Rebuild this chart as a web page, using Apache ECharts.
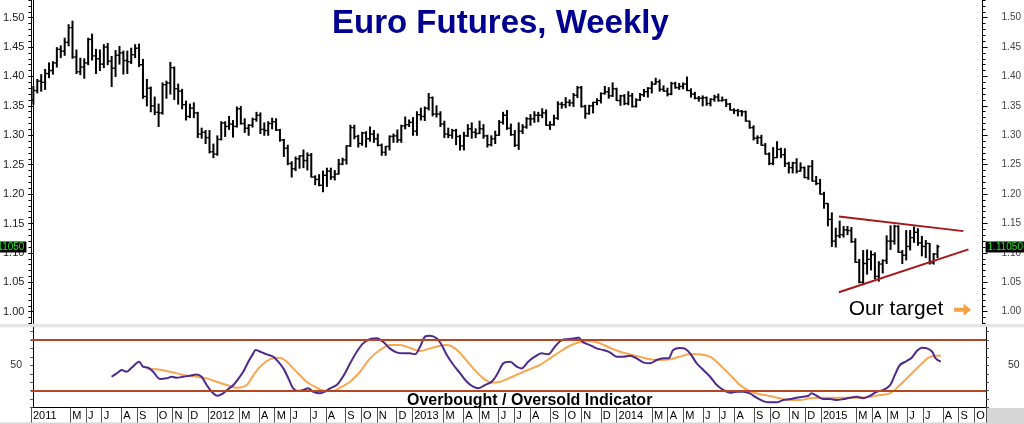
<!DOCTYPE html>
<html><head><meta charset="utf-8">
<script src="https://cdn.jsdelivr.net/npm/echarts@6/dist/echarts.min.js"></script>
<style>html,body{margin:0;padding:0;background:#fff}#c{width:1024px;height:424px}</style>
</head><body><div id="c"></div>
<script>
// ---------- data ----------
const firstWeek = '2011-02-25';      // first weekly bar (week ending, Friday)
const weekCount = 243;               // weekly slots on the time axis
const monthLetters = ['J','F','M','A','M','J','J','A','S','O','N','D'];
const lastPrice = 1.1105;

const opens = [
1.360,1.376,1.392,1.390,1.405,1.410,1.423,1.446,1.443,1.458,
1.483,1.433,1.408,1.416,1.423,1.463,1.435,1.430,1.421,1.450,
1.426,1.414,1.436,1.440,1.427,1.425,1.437,1.448,1.420,1.366,
1.380,1.350,1.339,1.338,1.386,1.389,1.415,1.379,1.375,1.352,
1.332,1.346,1.338,1.302,1.305,1.296,1.272,1.268,1.293,1.321,
1.315,1.319,1.315,1.345,1.320,1.312,1.317,1.327,1.334,1.310,
1.308,1.320,1.323,1.309,1.292,1.278,1.252,1.243,1.260,1.265,
1.257,1.266,1.229,1.225,1.215,1.232,1.239,1.229,1.234,1.251,
1.258,1.282,1.313,1.298,1.286,1.304,1.294,1.302,1.294,1.283,
1.271,1.281,1.298,1.299,1.292,1.316,1.318,1.322,1.307,1.335,
1.332,1.346,1.364,1.336,1.336,1.319,1.302,1.300,1.308,1.298,
1.282,1.299,1.311,1.305,1.303,1.311,1.299,1.284,1.294,1.300,
1.322,1.334,1.312,1.301,1.283,1.307,1.314,1.328,1.328,1.334,
1.334,1.338,1.317,1.318,1.329,1.353,1.352,1.356,1.355,1.368,
1.381,1.349,1.337,1.350,1.356,1.359,1.371,1.374,1.367,1.379,
1.359,1.367,1.354,1.367,1.349,1.360,1.369,1.374,1.380,1.387,
1.391,1.378,1.375,1.370,1.388,1.381,1.383,1.387,1.376,1.370,
1.363,1.363,1.364,1.354,1.361,1.365,1.359,1.360,1.353,1.343,
1.342,1.341,1.340,1.324,1.313,1.295,1.296,1.283,1.268,1.252,
1.262,1.276,1.267,1.252,1.245,1.253,1.239,1.245,1.228,1.247,
1.222,1.218,1.200,1.184,1.157,1.120,1.129,1.131,1.139,1.138,
1.119,1.084,1.050,1.082,1.089,1.097,1.060,1.081,1.087,1.120,
1.120,1.145,1.101,1.096,1.111,1.126,1.135,1.117,1.111,1.116,
1.083,1.098];
const highs = [
1.383,1.395,1.403,1.412,1.423,1.425,1.449,1.452,1.465,1.488,
1.494,1.445,1.431,1.430,1.465,1.472,1.446,1.445,1.454,1.456,
1.434,1.444,1.451,1.443,1.443,1.448,1.454,1.455,1.429,1.395,
1.382,1.365,1.353,1.389,1.392,1.424,1.416,1.387,1.378,1.358,
1.353,1.355,1.339,1.312,1.308,1.308,1.285,1.299,1.323,1.323,
1.332,1.325,1.348,1.349,1.328,1.318,1.329,1.339,1.338,1.321,
1.323,1.329,1.328,1.310,1.293,1.283,1.255,1.263,1.265,1.275,
1.270,1.269,1.231,1.233,1.239,1.244,1.244,1.240,1.259,1.261,
1.282,1.317,1.317,1.300,1.305,1.306,1.314,1.308,1.302,1.285,
1.281,1.299,1.302,1.309,1.317,1.331,1.326,1.330,1.340,1.346,
1.348,1.371,1.365,1.350,1.340,1.324,1.312,1.310,1.310,1.300,
1.305,1.318,1.321,1.311,1.324,1.318,1.300,1.299,1.307,1.325,
1.339,1.342,1.319,1.308,1.321,1.318,1.330,1.335,1.340,1.339,
1.345,1.343,1.323,1.334,1.357,1.356,1.364,1.360,1.371,1.383,
1.383,1.351,1.351,1.356,1.362,1.372,1.383,1.381,1.389,1.380,
1.368,1.369,1.374,1.371,1.362,1.371,1.378,1.381,1.391,1.397,
1.394,1.384,1.380,1.390,1.390,1.388,1.389,1.399,1.379,1.373,
1.366,1.367,1.365,1.362,1.368,1.370,1.365,1.361,1.354,1.345,
1.344,1.342,1.341,1.324,1.316,1.299,1.300,1.286,1.270,1.279,
1.289,1.278,1.277,1.254,1.254,1.260,1.253,1.246,1.248,1.257,
1.230,1.225,1.203,1.184,1.168,1.142,1.154,1.145,1.145,1.143,
1.124,1.089,1.104,1.105,1.103,1.100,1.085,1.088,1.129,1.146,
1.147,1.146,1.104,1.138,1.138,1.144,1.141,1.128,1.121,1.116,
1.099,1.113];
const lows = [
1.353,1.372,1.375,1.378,1.398,1.404,1.416,1.432,1.436,1.452,
1.431,1.405,1.403,1.397,1.420,1.428,1.405,1.410,1.415,1.420,
1.383,1.400,1.421,1.404,1.405,1.422,1.432,1.417,1.363,1.350,
1.340,1.335,1.315,1.336,1.363,1.370,1.361,1.353,1.345,1.326,
1.330,1.330,1.296,1.295,1.286,1.270,1.262,1.266,1.292,1.298,
1.310,1.297,1.314,1.319,1.305,1.300,1.314,1.324,1.303,1.300,
1.300,1.311,1.308,1.290,1.264,1.250,1.229,1.240,1.244,1.245,
1.241,1.229,1.216,1.214,1.204,1.213,1.225,1.224,1.234,1.250,
1.251,1.281,1.294,1.280,1.283,1.280,1.290,1.288,1.282,1.266,
1.266,1.275,1.288,1.288,1.288,1.311,1.315,1.300,1.300,1.326,
1.325,1.343,1.333,1.331,1.315,1.296,1.296,1.295,1.284,1.275,
1.275,1.298,1.295,1.296,1.303,1.295,1.280,1.282,1.286,1.300,
1.319,1.310,1.300,1.281,1.276,1.303,1.312,1.317,1.322,1.323,
1.330,1.317,1.310,1.317,1.327,1.346,1.347,1.350,1.349,1.364,
1.348,1.329,1.336,1.338,1.352,1.355,1.370,1.363,1.366,1.359,
1.351,1.352,1.352,1.348,1.348,1.359,1.366,1.365,1.372,1.387,
1.375,1.375,1.367,1.369,1.380,1.378,1.379,1.376,1.365,1.362,
1.358,1.350,1.351,1.350,1.358,1.358,1.358,1.349,1.343,1.337,
1.333,1.333,1.324,1.312,1.292,1.286,1.283,1.268,1.250,1.250,
1.262,1.262,1.247,1.236,1.236,1.236,1.239,1.228,1.225,1.222,
1.216,1.200,1.176,1.146,1.111,1.110,1.126,1.127,1.131,1.118,
1.084,1.049,1.046,1.064,1.071,1.056,1.052,1.066,1.082,1.106,
1.115,1.101,1.082,1.088,1.105,1.118,1.113,1.095,1.092,1.081,
1.081,1.092];
const closes = [
1.376,1.392,1.390,1.405,1.410,1.423,1.446,1.443,1.458,1.483,
1.433,1.408,1.416,1.423,1.463,1.435,1.430,1.421,1.450,1.426,
1.414,1.436,1.440,1.427,1.425,1.437,1.448,1.420,1.366,1.380,
1.350,1.339,1.338,1.386,1.389,1.415,1.379,1.375,1.352,1.332,
1.346,1.338,1.302,1.305,1.296,1.272,1.268,1.293,1.321,1.315,
1.319,1.315,1.345,1.320,1.312,1.317,1.327,1.334,1.310,1.308,
1.320,1.323,1.309,1.292,1.278,1.252,1.243,1.260,1.265,1.257,
1.266,1.229,1.225,1.215,1.232,1.239,1.229,1.234,1.251,1.258,
1.282,1.313,1.298,1.286,1.304,1.294,1.302,1.294,1.283,1.271,
1.281,1.298,1.299,1.292,1.316,1.318,1.322,1.307,1.335,1.332,
1.346,1.364,1.336,1.336,1.319,1.302,1.300,1.308,1.298,1.282,
1.299,1.311,1.305,1.303,1.311,1.299,1.284,1.294,1.300,1.322,
1.334,1.312,1.301,1.283,1.307,1.314,1.328,1.328,1.334,1.334,
1.338,1.317,1.318,1.329,1.353,1.352,1.356,1.355,1.368,1.381,
1.349,1.337,1.350,1.356,1.359,1.371,1.374,1.367,1.379,1.359,
1.367,1.354,1.367,1.349,1.360,1.369,1.374,1.380,1.387,1.391,
1.378,1.375,1.370,1.388,1.381,1.383,1.387,1.376,1.370,1.363,
1.363,1.364,1.354,1.361,1.365,1.359,1.360,1.353,1.343,1.342,
1.341,1.340,1.324,1.313,1.295,1.296,1.283,1.268,1.252,1.262,
1.276,1.267,1.252,1.245,1.253,1.239,1.245,1.228,1.247,1.222,
1.218,1.200,1.184,1.157,1.120,1.129,1.131,1.139,1.138,1.119,
1.084,1.050,1.082,1.089,1.097,1.060,1.081,1.087,1.120,1.120,
1.145,1.101,1.096,1.111,1.126,1.135,1.117,1.111,1.116,1.083,
1.098,1.1105];

// triangle trendlines: [week index, price]
const upperTrend = [[205.8, 1.162], [237.6, 1.137]];
const lowerTrend = [[205.8, 1.033], [238.9, 1.106]];

// oscillator: [week index, value]
const fastOsc = [
[20,36.5],[21.3,40.5],[22.6,44.4],[23.8,42.4],[25.1,47.2],[27,54.3],[28,48.4],[29.3,47.2],[30.6,42.4],[32.3,33.8],
[34,34.6],[35.3,36.5],[36.6,35.3],[38.2,36.5],[39.9,37.7],[41.6,39.3],[42.9,36.5],[44.2,26.7],[45.5,18.8],[46.9,14],
[48.4,16.9],[49.7,22],[51,26.7],[52.2,33.8],[53.5,42.4],[54.8,54.3],[55.9,63],[56.7,68.1],[58.2,65.4],[59.5,63],
[61.1,60.2],[62.4,54.3],[63.7,46.4],[65,34.6],[66.2,22.8],[67.5,19.6],[68.8,20.8],[70,22.8],[71.3,18.8],[73,16.9],
[74.3,18.8],[75.6,22.8],[77.3,26.7],[78.6,34.6],[79.6,42.4],[80.7,52.4],[82.4,66.1],[84,76],[85.8,81.1],[87.5,82],
[89.1,77.9],[90.8,70.1],[92.5,65.4],[94.2,64.2],[95.9,64.2],[97.2,63],[98.5,72],[99.7,83.8],[101,85],[102.7,82],
[104,74],[105.3,62.2],[107,50.4],[108.7,40.5],[110.4,30.6],[112,24.7],[113.3,22.8],[115,26.7],[116.7,30.6],[118,38.5],
[119.7,52.4],[121.4,54.3],[123.1,48.4],[124.3,46.4],[126,54.3],[127.7,60.2],[129.4,64.2],[131.1,63],[132.8,72],[134.5,79.9],
[136.2,81.1],[137.9,82],[138.8,82.8],[140,77.2],[141.7,74],[143.4,70.1],[145.1,68.1],[146.8,65.4],[148.5,60.2],[150.2,60.2],
[151.9,61.4],[153.6,58.3],[155.3,53.5],[157,52.4],[158.7,56.3],[160.4,58.3],[161.7,58.3],[162.9,68.1],[164.6,70.5],[165.9,69.7],
[167.2,64.2],[168.9,52.4],[170.6,44.4],[172.3,36.5],[174,26.7],[175.7,20.8],[177.4,17.6],[179.1,18.8],[180.7,18.8],[182.4,16.9],
[184.1,11.7],[185.8,7.7],[187.5,6.2],[189.2,6.2],[190.9,8.9],[192.6,10.1],[194.3,11.7],[196,12.8],[197.3,14],[198.1,16.9],
[199.4,14],[201.1,10.1],[202.8,10.1],[204.5,8.9],[206.2,10.1],[207.9,11.7],[209.6,12.8],[211.3,11.1],[213,14],[214.7,18.8],
[216.4,20.8],[218.1,26.7],[219.3,38.5],[220.6,50.4],[222.3,55.1],[223.6,59],[224.9,66.9],[226.2,70.8],[227.5,70.1],[228.8,66.1],
[229.7,58.3],[231,54.3]];
const slowOsc = [
[28.9,46.4],[31.5,45.3],[34,43.3],[36.6,40.5],[39.1,37.7],[41.6,36.5],[44.2,34.6],[46.7,30.6],[49.3,26.7],[51.8,23.5],
[54.4,26.7],[56.1,38.5],[57.8,48.4],[59.5,55.1],[61.1,58.3],[62.8,59],[64.6,54.3],[66.2,46.4],[67.9,38.5],[69.6,30.6],
[71.8,24.7],[74,20],[76.4,19.6],[78.1,23.5],[80.7,30.6],[83.2,42.4],[85.8,58.3],[88.3,68.1],[90.8,74],[93.4,74],
[95.9,70.8],[98.5,66.9],[101,70.1],[103.6,73.2],[105.3,74],[107.4,70.1],[109.5,60.2],[112,46.4],[114.6,34.6],[116.7,29.4],
[118.8,30.6],[121.4,35.3],[123.9,40.5],[126.5,45.6],[129,50.4],[131.6,58.3],[134.1,66.1],[136.6,73.2],[139.2,77.2],[141.7,78.8],
[144.3,76],[146.8,70.8],[149.4,66.1],[151.9,63],[154.4,60.2],[157,57.1],[159.5,56.3],[162.1,57.1],[164.6,60.2],[167.2,63.5],
[169.7,63],[172.3,60.2],[174.8,50.4],[177.4,38.5],[179.9,26.7],[182.4,19.6],[185,15.7],[187.5,13.7],[190.1,11],[192.6,8.9],
[195.2,8.9],[197.7,11],[200.3,11.7],[202.8,11.7],[205.3,11.7],[207.9,11.7],[210.4,11.7],[213,12.8],[215.5,14.8],[218.1,16.9],
[220.6,26.7],[223.2,38.5],[225.8,50.4],[227.9,59],[229.7,61.4],[231,61.4]];

const priceTicks = [1.00,1.05,1.10,1.15,1.20,1.25,1.30,1.35,1.40,1.45,1.50];
const oscTicks = [0,10,20,30,40,50,60,70,80,90];
const oscLabels = [50];
const oscBands = [80, 20];

// ---------- derived ----------
const FONT = 'Liberation Sans, Arial, Helvetica, sans-serif';
const priceMinor = [];
for (let k = 98; k <= 153; k++) priceMinor.push(k / 100);

const t0 = Date.parse(firstWeek + 'T00:00:00Z');
const weekKeys = [], labelAt = [];
for (let i = 0; i < weekCount; i++) {
  const d = new Date(t0 + i * 7 * 86400000);
  weekKeys.push(d.toISOString().slice(0, 10));
  const prev = i > 0 ? new Date(t0 + (i - 1) * 7 * 86400000) : null;
  const m = d.getUTCMonth();
  let lab = '';
  if (i === 0) lab = String(d.getUTCFullYear());
  else if (i >= 9 && m !== 1 && m !== prev.getUTCMonth())
    lab = m === 0 ? String(d.getUTCFullYear()) : monthLetters[m];
  labelAt.push(lab);
}
const ohlc = opens.map((o, i) => [i, o, highs[i], lows[i], closes[i]]);

function renderBar(params, api) {
  const x = api.value(0);
  const pO = api.coord([x, api.value(1)]);
  const pH = api.coord([x, api.value(2)]);
  const pL = api.coord([x, api.value(3)]);
  const pC = api.coord([x, api.value(4)]);
  const w = api.size([1, 0])[0] * 0.5;
  const st = { stroke: '#000', lineWidth: 2 };
  const st2 = { stroke: '#000', lineWidth: 1.4 };
  return { type: 'group', children: [
    { type: 'line', shape: { x1: pH[0], y1: pH[1] - 0.5, x2: pL[0], y2: pL[1] + 0.5 }, style: st },
    { type: 'line', shape: { x1: pO[0] - w, y1: pO[1], x2: pO[0], y2: pO[1] }, style: st2 },
    { type: 'line', shape: { x1: pC[0], y1: pC[1], x2: pC[0] + w, y2: pC[1] }, style: st2 }
  ]};
}

const priceY = (pos, ticks, withLabels, len, size, color, margin) => ({
  gridIndex: 0, type: 'value', position: pos, min: 0.98, max: 1.53,
  axisLine: { show: true, lineStyle: { color: '#000', width: 1 } },
  axisTick: { show: true, customValues: ticks, length: len, lineStyle: { color: '#000' } },
  axisLabel: withLabels ? { show: true, customValues: ticks, formatter: v => v.toFixed(2), fontSize: size, color: color, margin: margin, fontFamily: FONT } : { show: false },
  splitLine: { show: false }
});
const oscY = (pos, margin) => ({
  gridIndex: 1, type: 'value', position: pos, min: 0, max: 95,
  axisLine: { show: true, lineStyle: { color: '#000', width: 1 } },
  axisTick: { show: true, customValues: oscTicks, length: 3, lineStyle: { color: '#555' } },
  axisLabel: { show: true, customValues: oscLabels, fontSize: 10.5, color: '#333', margin: margin, fontFamily: FONT },
  splitLine: { show: false }
});

const priceTag = { show: true, formatter: lastPrice.toFixed(5), backgroundColor: '#000', color: '#19e619',
  fontSize: 10, padding: [1, 2, 0, 2], fontFamily: FONT };

const option = {
  animation: false,
  backgroundColor: '#fff',
  textStyle: { fontFamily: FONT },
  title: [
    { text: 'Euro Futures, Weekly', left: 327, top: 2,
      textStyle: { fontSize: 33, fontWeight: 'bold', color: '#000090', fontFamily: FONT } },
    { text: 'Overbought / Oversold Indicator', left: 402, top: 388,
      textStyle: { fontSize: 16, fontWeight: 'bold', color: '#000', fontFamily: FONT } }
  ],
  graphic: [
    { type: 'rect', shape: { x: 0, y: 324, width: 1024, height: 3.3 }, style: { fill: '#e4e4e4' }, z: -1 },
    { type: 'rect', shape: { x: 986.5, y: 408, width: 40, height: 16 }, style: { fill: '#d6d6d6' }, z: -1 },
    { type: 'rect', shape: { x: 0, y: 422.5, width: 1024, height: 2 }, style: { fill: '#d6d6d6' }, z: -1 }
  ],
  grid: [
    { left: 31, right: 38, top: -1.74, height: 325.2 },
    { left: 31, right: 38, top: 327.3, height: 80.3 }
  ],
  xAxis: [
    { gridIndex: 0, type: 'value', min: -0.5, max: 242.5, show: false },
    { gridIndex: 1, type: 'category', data: weekKeys, boundaryGap: true, position: 'bottom',
      axisLine: { show: true, lineStyle: { color: '#000', width: 1 } },
      axisTick: { show: true, interval: (i) => labelAt[i] !== '', length: 15, lineStyle: { color: '#555' } },
      axisLabel: { show: true, interval: (i) => labelAt[i] !== '', formatter: (v, i) => labelAt[i],
        align: 'left', margin: 3, fontSize: 11, color: '#000', fontFamily: FONT },
      splitLine: { show: false } },
    { gridIndex: 1, type: 'value', min: -0.5, max: 242.5, show: false }
  ],
  yAxis: [
    priceY('left', priceTicks, true, 5, 11, '#222', 7),
    priceY('left', priceMinor, false, 3),
    priceY('right', priceTicks, true, 5, 10, '#444', 19),
    priceY('right', priceMinor, false, 3),
    oscY('left', 9),
    oscY('right', 22)
  ],
  series: [
    { type: 'custom', name: 'Euro', xAxisIndex: 0, yAxisIndex: 0, data: ohlc,
      encode: { x: 0, y: [1, 2, 3, 4] }, renderItem: renderBar, z: 3 },
    { type: 'line', xAxisIndex: 0, yAxisIndex: 0, data: upperTrend, symbol: 'none',
      lineStyle: { color: '#a51818', width: 2 }, z: 4, silent: true,
      markLine: { silent: true, symbol: ['none', 'none'], z: 10,
        lineStyle: { color: 'rgba(0,0,0,0)', width: 1, type: 'solid' },
        label: priceTag,
        data: [ { yAxis: lastPrice, label: Object.assign({}, priceTag, { position: 'start', distance: 5 }) },
                { yAxis: lastPrice, label: Object.assign({}, priceTag, { position: 'end', distance: 3 }) } ] },
      markPoint: { silent: true, data: [
        { coord: [220.4, 1.0035], symbol: 'rect', symbolSize: 1, itemStyle: { color: 'rgba(0,0,0,0)' },
          label: { show: true, position: 'inside', formatter: 'Our target', fontSize: 21, color: '#000', fontFamily: FONT } },
        { coord: [237.4, 1.0035], symbol: 'path://M0,4L9,4L9,0L16,6L9,12L9,8L0,8Z', symbolSize: [17, 12],
          itemStyle: { color: '#f5a043' }, label: { show: false } }
      ] } },
    { type: 'line', xAxisIndex: 0, yAxisIndex: 0, data: lowerTrend, symbol: 'none',
      lineStyle: { color: '#a51818', width: 2 }, z: 4, silent: true },
    { type: 'line', xAxisIndex: 2, yAxisIndex: 4, data: fastOsc, symbol: 'none', smooth: 0.3,
      lineStyle: { color: '#4d2a8c', width: 2 }, z: 4, silent: true,
      markLine: { silent: true, symbol: ['none', 'none'], label: { show: false },
        lineStyle: { color: '#b5461f', width: 2, type: 'solid' },
        data: oscBands.map(v => ({ yAxis: v })) } },
    { type: 'line', xAxisIndex: 2, yAxisIndex: 4, data: slowOsc, symbol: 'none', smooth: 0.3,
      lineStyle: { color: '#f8a650', width: 2 }, z: 3, silent: true }
  ]
};
const chart = echarts.init(document.getElementById('c'), null, { renderer: 'canvas' });
chart.setOption(option);
</script></body></html>
